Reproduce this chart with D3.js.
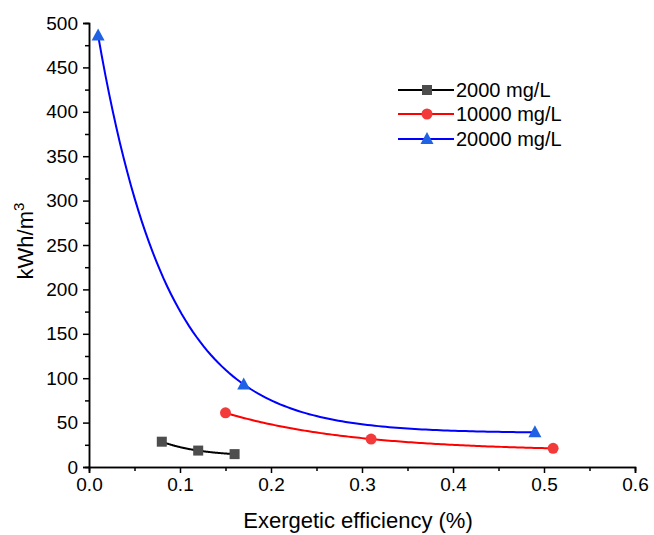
<!DOCTYPE html>
<html>
<head>
<meta charset="utf-8">
<script src="https://cdn.jsdelivr.net/npm/d3@7/dist/d3.min.js"></script>
<style>
  html, body { margin: 0; padding: 0; background: #fff; }
  svg { display: block; font-family: "Liberation Sans", Arial, sans-serif; }
</style>
</head>
<body>
<svg id="chart" width="654" height="535"></svg>
<script>
// ---- data ----
const seriesNames = ["2000 mg/L", "10000 mg/L", "20000 mg/L"];
const x2000 = [0.08, 0.12, 0.16];
const y2000 = [28.5, 18.5, 14.5];
const x10000 = [0.15, 0.31, 0.51];
const y10000 = [61, 31.5, 21];
const x20000 = [0.01, 0.17, 0.49];
const y20000 = [486, 93, 39];
const xTicks = [0.0, 0.1, 0.2, 0.3, 0.4, 0.5, 0.6];
const yTicks = [0, 50, 100, 150, 200, 250, 300, 350, 400, 450, 500];
const xLabel = "Exergetic efficiency (%)";

const svg = d3.select("#chart");
const mLeft = 89, mRight = 635, mTop = 23, mBottom = 467;

const x = d3.scaleLinear().domain([0, 0.6]).range([mLeft, mRight]);
const y = d3.scaleLinear().domain([0, 500]).range([mBottom, mTop]);

// axes
const xAxis = d3.axisBottom(x).tickValues(xTicks).tickFormat(d3.format(".1f")).tickSize(6).tickPadding(5);
const xMinor = d3.axisBottom(x).tickValues(d3.range(0.05, 0.6, 0.1)).tickFormat("").tickSize(4);
const yAxis = d3.axisLeft(y).tickValues(yTicks).tickFormat(d3.format("d")).tickSize(6).tickPadding(5);
const yMinor = d3.axisLeft(y).tickValues(d3.range(25, 500, 50)).tickFormat("").tickSize(4);

function styleAxis(g) {
  g.select(".domain").attr("stroke", "#000").attr("stroke-width", 1.5);
  g.selectAll(".tick line").attr("stroke", "#000").attr("stroke-width", 1.5);
  g.selectAll(".tick text").attr("fill", "#000").style("font-size", "19px").style("font-family", "Liberation Sans, Arial, sans-serif");
}
svg.append("g").attr("transform", `translate(0,${mBottom})`).call(xMinor).call(styleAxis);
svg.append("g").attr("transform", `translate(0,${mBottom})`).call(xAxis).call(styleAxis);
svg.append("g").attr("transform", `translate(${mLeft},0)`).call(yMinor).call(styleAxis);
svg.append("g").attr("transform", `translate(${mLeft},0)`).call(yAxis).call(styleAxis);

// axis titles
svg.append("text").attr("x", (mLeft + mRight) / 2 - 4).attr("y", 528)
  .attr("text-anchor", "middle").style("font-size", "22px").attr("fill", "#000").text(xLabel);
const yt = svg.append("text").attr("transform", `translate(33,241) rotate(-90)`)
  .attr("text-anchor", "middle").style("font-size", "22px").attr("fill", "#000");
yt.append("tspan").text("kWh/m");
yt.append("tspan").attr("dy", -9).style("font-size", "15px").text("3");

// Smooth decaying connector (shape-preserving curve through the 3 data points)
function ExpCurve(context) { this._context = context; }
ExpCurve.prototype = {
  areaStart() {}, areaEnd() {},
  lineStart() { this._pts = []; },
  point(px, py) { this._pts.push([+px, +py]); },
  lineEnd() {
    const p = this._pts, c = this._context;
    if (p.length !== 3) {
      const m = d3.curveMonotoneX(c); m.lineStart(); p.forEach(q => m.point(q[0], q[1])); m.lineEnd(); return;
    }
    const [x0, y0] = p[0], [x1, y1] = p[1], [x2, y2] = p[2];
    const R = (y1 - y0) / (y2 - y1);
    const ratio = k => Math.abs(k) < 1e-9 ? (x1 - x0) / (x2 - x1)
      : (1 - Math.exp(k * (x0 - x1))) / (Math.exp(k * (x2 - x1)) - 1);
    let lo = -0.3, hi = 0.3;
    for (let i = 0; i < 200; i++) {
      const mid = (lo + hi) / 2;
      if (ratio(mid) > R) lo = mid; else hi = mid;
    }
    const k = (lo + hi) / 2;
    const e = xx => Math.abs(k) < 1e-9 ? xx - x1 : Math.exp(k * (xx - x1));
    const a = (y2 - y1) / (e(x2) - e(x1));
    const b = y1 - a * e(x1);
    c.moveTo(x0, y0);
    const n = 120;
    for (let i = 1; i <= n; i++) {
      const xx = x0 + (x2 - x0) * i / n;
      c.lineTo(xx, b + a * e(xx));
    }
  }
};
const expCurve = ctx => new ExpCurve(ctx);

// series
const series = [
  { name: seriesNames[0], xs: x2000, ys: y2000, line: "#000000", fill: "#4d4d4d", shape: "square" },
  { name: seriesNames[1], xs: x10000, ys: y10000, line: "#ff0000", fill: "#f23a3a", shape: "circle" },
  { name: seriesNames[2], xs: x20000, ys: y20000, line: "#0000ff", fill: "#1f62e3", shape: "triangle" }
];

const lineGen = d3.line().x(d => x(d[0])).y(d => y(d[1])).curve(expCurve);

function marker(g, shape, fill, cx, cy) {
  if (shape === "square") {
    g.append("rect").attr("x", cx - 5).attr("y", cy - 5).attr("width", 10).attr("height", 10).attr("fill", fill);
  } else if (shape === "circle") {
    g.append("circle").attr("cx", cx).attr("cy", cy).attr("r", 5.5).attr("fill", fill);
  } else {
    g.append("path").attr("d", `M${cx},${cy - 7}L${cx + 6.5},${cy + 5}L${cx - 6.5},${cy + 5}Z`).attr("fill", fill);
  }
}

series.forEach(s => {
  const pts = s.xs.map((v, i) => [v, s.ys[i]]);
  svg.append("path").attr("d", lineGen(pts)).attr("fill", "none")
    .attr("stroke", s.line).attr("stroke-width", 2);
  const g = svg.append("g");
  pts.forEach(p => marker(g, s.shape, s.fill, x(p[0]), y(p[1])));
});

// legend
const legY = [90, 114, 139];
series.forEach((s, i) => {
  const g = svg.append("g");
  g.append("line").attr("x1", 398).attr("x2", 454).attr("y1", legY[i]).attr("y2", legY[i])
    .attr("stroke", s.line).attr("stroke-width", 2);
  marker(g, s.shape, s.fill, 427, legY[i]);
  g.append("text").attr("x", 456).attr("y", legY[i] + 7).style("font-size", "20px").attr("fill", "#000").text(s.name);
});
</script>
</body>
</html>
